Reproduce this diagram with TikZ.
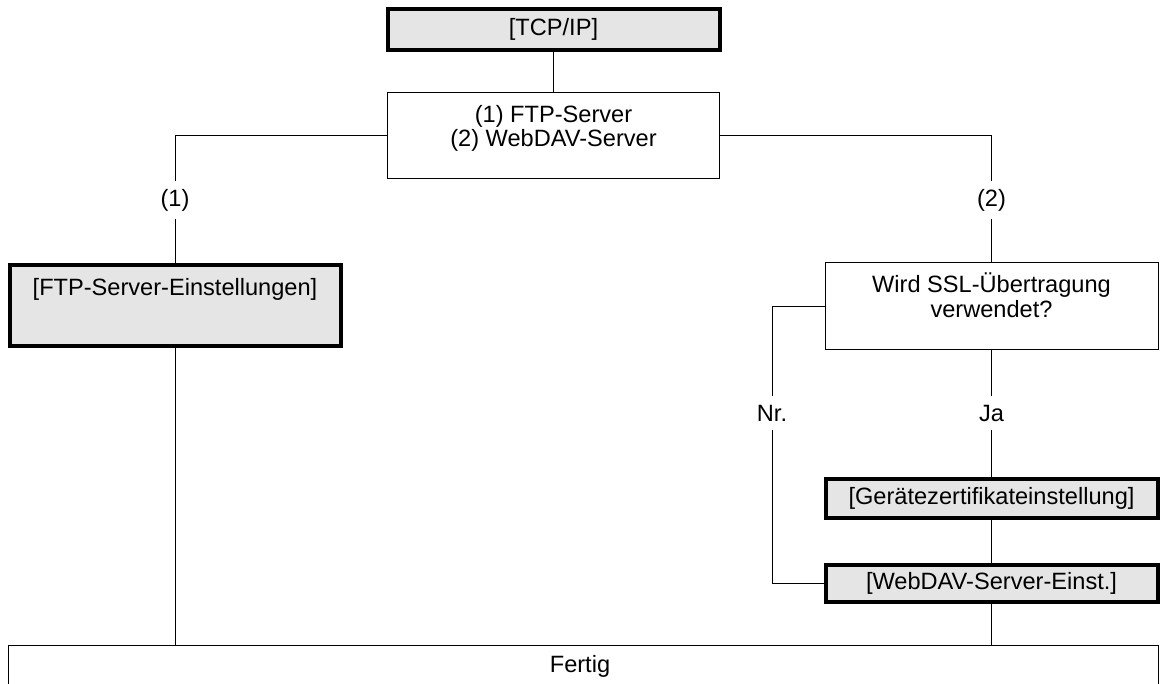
\documentclass[tikz,border=0pt]{standalone}
\usepackage{fontspec}
\setmainfont{Liberation Sans}
\usetikzlibrary{positioning}

\begin{document}
\begin{tikzpicture}[
    x=0.5pt, y=-0.5pt,
    every node/.style={font=\fontsize{11.8}{12.5}\selectfont},
    plainbox/.style={rectangle, draw, line width=0.5pt, minimum width=166pt, inner sep=0pt},
    menubox/.style={plainbox, fill=gray!20, line width=2pt},
    caption/.style={inner sep=0pt, align=center, anchor=north},
    branch/.style={inner xsep=2pt, inner ysep=4pt},
    link/.style={line width=0.5pt}
]
\useasboundingbox (0,0) rectangle (1161,684);
\clip (0,0) rectangle (1161,684);

% Start
\node[menubox, minimum height=20.5pt] (tcp) at (553.5,29.5) {[TCP/IP]};

% Choice of server
\node[plainbox, minimum height=43pt] (server) at (553.5,136) {};
\node[caption, below=6pt of server.north] (servertxt) {(1) FTP-Server\\(2) WebDAV-Server};

% Branch (1)
\node[branch] (one) at (175,200) {(1)};
\node[menubox, minimum width=165.5pt, minimum height=40.5pt] (ftp) at (175,305.5) {};
\node[caption, below=7.5pt of ftp.north] (ftptxt) {[FTP-Server-Einstellungen]};

% Branch (2)
\node[branch] (two) at (991.5,200) {(2)};
\node[plainbox, minimum width=166.5pt, minimum height=43pt] (ssl) at (991.5,306) {};
\node[caption, below=5pt of ssl.north] (ssltxt) {Wird SSL-Übertragung\\verwendet?};
\node[branch] (no) at (772,413) {Nr.};
\node[branch] (yes) at (991.5,413) {Ja};
\node[menubox, minimum height=19.5pt] (cert) at (991.5,498.5) {[Gerätezertifikateinstellung]};
\node[menubox, minimum height=18.5pt] (webdav) at (991.5,583.5) {[WebDAV-Server-Einst.]};

% End
\node[plainbox, minimum width=575pt, minimum height=37.5pt] (done) at (583,682.5) {};
\node[inner sep=0pt] (donetxt) at (580,666) {Fertig};

% Connectors
\draw[link] (tcp.south) -- (server.north);
\draw[link] (server.west) -| (one.north);
\draw[link] (one.south) -- (ftp.north);
\draw[link] (server.east) -| (two.north);
\draw[link] (two.south) -- (ssl.north);
\draw[link] (ftp.south) -- (ftp.south |- done.north);
\draw[link] (ssl.west) -| (no.north);
\draw[link] (no.south) |- (webdav.west);
\draw[link] (ssl.south) -- (yes.north);
\draw[link] (yes.south) -- (cert.north);
\draw[link] (cert.south) -- (webdav.north);
\draw[link] (webdav.south) -- (webdav.south |- done.north);

\end{tikzpicture}
\end{document}
